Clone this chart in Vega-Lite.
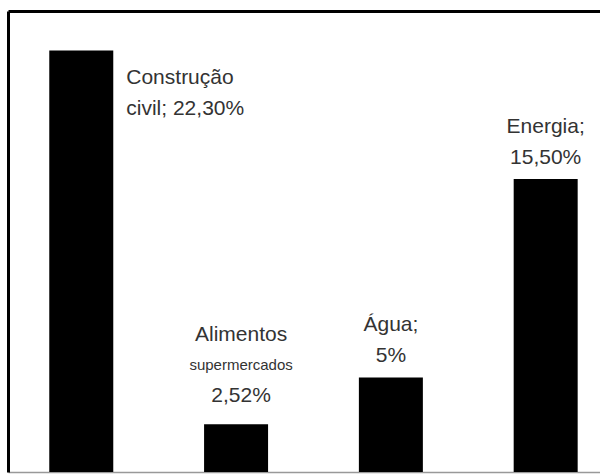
{
  "$schema": "https://vega.github.io/schema/vega-lite/v6.json",
  "width": 592,
  "height": 461,
  "autosize": {"type": "none"},
  "padding": {"left": 8, "top": 11, "right": 0, "bottom": 2},
  "background": "white",
  "config": {"view": {"stroke": null}},
  "data": {
    "values": [
      {"setor": "Construção civil", "valor": 22.3, "l1": "Construção", "l2": "civil; 22,30%", "l3": ""},
      {"setor": "Alimentos supermercados", "valor": 2.52, "l1": "Alimentos", "l2": "supermercados", "l3": "2,52%"},
      {"setor": "Água", "valor": 5, "l1": "Água;", "l2": "5%", "l3": ""},
      {"setor": "Energia", "valor": 15.5, "l1": "Energia;", "l2": "15,50%", "l3": ""}
    ]
  },
  "resolve": {"scale": {"x": "shared", "y": "shared"}, "axis": {"x": "independent"}},
  "layer": [
    {
      "mark": {"type": "bar", "color": "black"},
      "encoding": {
        "x": {"field": "setor", "type": "nominal", "sort": null,
          "scale": {"paddingInner": 0.5866, "paddingOuter": 0.2054, "align": 0.649},
          "axis": {"orient": "top", "domain": true, "domainColor": "black", "domainWidth": 3, "ticks": false, "labels": false, "title": null, "grid": false}},
        "y": {"field": "valor", "type": "quantitative",
          "scale": {"domain": [0, 24.39], "nice": false, "zero": true},
          "axis": {"orient": "left", "domain": true, "domainColor": "black", "domainWidth": 3, "ticks": false, "labels": false, "title": null, "grid": false}}
      }
    },
    {
      "transform": [{"filter": "datum.setor === 'Construção civil'"}],
      "mark": {"type": "text", "align": "left", "baseline": "alphabetic", "dx": 45, "dy": 33.5, "font": "Liberation Sans", "fontSize": 21, "color": "#333"},
      "encoding": {
        "x": {"field": "setor", "type": "nominal", "sort": null,
          "axis": {"orient": "bottom", "domain": true, "domainColor": "#999", "domainWidth": 1.5, "ticks": false, "labels": false, "title": null, "grid": false}},
        "y": {"field": "valor", "type": "quantitative"},
        "text": {"field": "l1"}
      }
    },
    {
      "transform": [{"filter": "datum.setor === 'Construção civil'"}],
      "mark": {"type": "text", "align": "left", "baseline": "alphabetic", "dx": 45, "dy": 64.5, "font": "Liberation Sans", "fontSize": 21, "color": "#333"},
      "encoding": {
        "x": {"field": "setor", "type": "nominal", "sort": null, "axis": null},
        "y": {"field": "valor", "type": "quantitative"},
        "text": {"field": "l2"}
      }
    },
    {
      "transform": [{"filter": "datum.setor === 'Alimentos supermercados'"}],
      "mark": {"type": "text", "align": "center", "baseline": "alphabetic", "dx": 5, "dy": -83, "font": "Liberation Sans", "fontSize": 21, "color": "#333"},
      "encoding": {
        "x": {"field": "setor", "type": "nominal", "sort": null, "axis": null},
        "y": {"field": "valor", "type": "quantitative"},
        "text": {"field": "l1"}
      }
    },
    {
      "transform": [{"filter": "datum.setor === 'Alimentos supermercados'"}],
      "mark": {"type": "text", "align": "center", "baseline": "alphabetic", "dx": 5, "dy": -54, "font": "Liberation Sans", "fontSize": 15, "color": "#333"},
      "encoding": {
        "x": {"field": "setor", "type": "nominal", "sort": null, "axis": null},
        "y": {"field": "valor", "type": "quantitative"},
        "text": {"field": "l2"}
      }
    },
    {
      "transform": [{"filter": "datum.setor === 'Alimentos supermercados'"}],
      "mark": {"type": "text", "align": "center", "baseline": "alphabetic", "dx": 5, "dy": -22, "font": "Liberation Sans", "fontSize": 21, "color": "#333"},
      "encoding": {
        "x": {"field": "setor", "type": "nominal", "sort": null, "axis": null},
        "y": {"field": "valor", "type": "quantitative"},
        "text": {"field": "l3"}
      }
    },
    {
      "transform": [{"filter": "datum.setor === 'Água' || datum.setor === 'Energia'"}],
      "mark": {"type": "text", "align": "center", "baseline": "alphabetic", "dy": -46, "font": "Liberation Sans", "fontSize": 21, "color": "#333"},
      "encoding": {
        "x": {"field": "setor", "type": "nominal", "sort": null, "axis": null},
        "y": {"field": "valor", "type": "quantitative"},
        "text": {"field": "l1"}
      }
    },
    {
      "transform": [{"filter": "datum.setor === 'Água' || datum.setor === 'Energia'"}],
      "mark": {"type": "text", "align": "center", "baseline": "alphabetic", "dy": -15.5, "font": "Liberation Sans", "fontSize": 21, "color": "#333"},
      "encoding": {
        "x": {"field": "setor", "type": "nominal", "sort": null, "axis": null},
        "y": {"field": "valor", "type": "quantitative"},
        "text": {"field": "l2"}
      }
    }
  ]
}
